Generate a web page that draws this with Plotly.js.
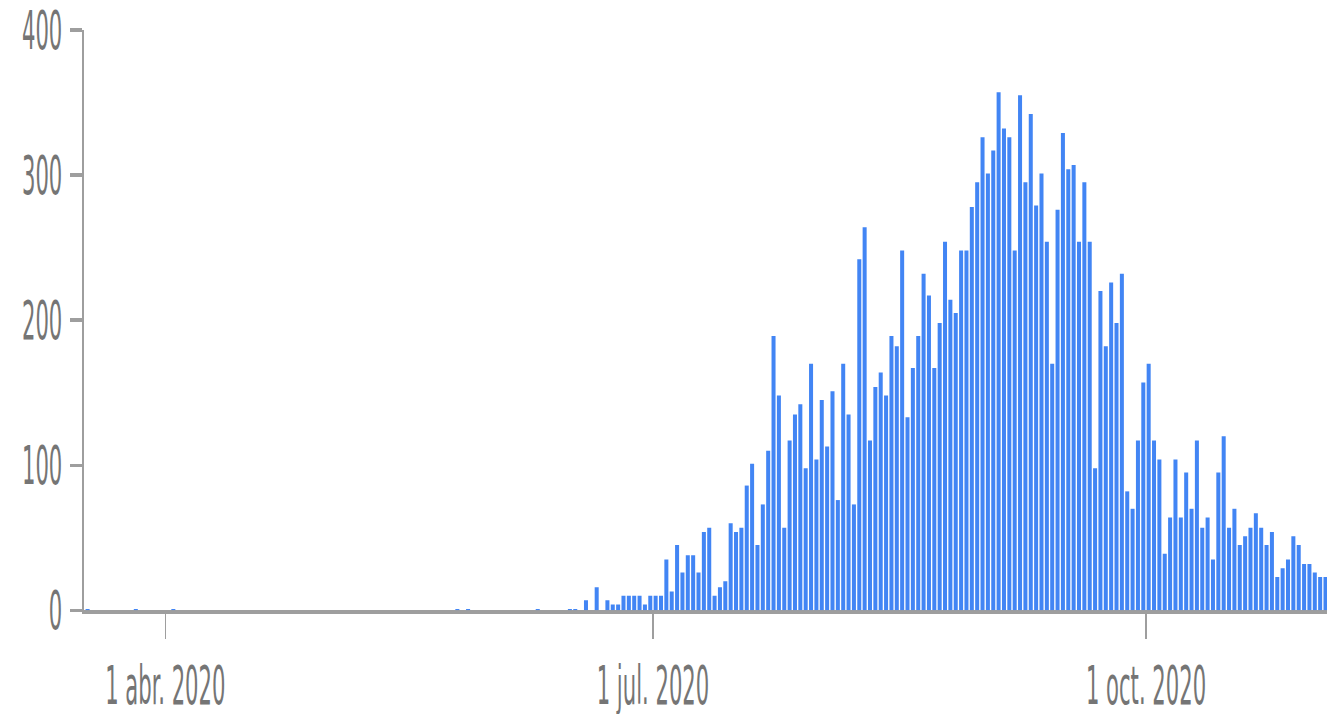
<!DOCTYPE html>
<html>
<head>
<meta charset="utf-8">
<script src="https://cdn.plot.ly/plotly-3.0.1.min.js"></script>
<style>
html, body { margin: 0; padding: 0; overflow: hidden; background: #ffffff; width: 1340px; height: 714px; }
#wrap { width: 1340px; height: 714px; overflow: hidden; }
#chart { width: 1340px; height: 310px; transform: scaleY(2.3032); transform-origin: 0 0; }
</style>
</head>
<body>
<div id="wrap"><div id="chart"></div></div>
<script>
// ---- data (daily values) ----
const sporadicDates = ['2020-03-17', '2020-03-26', '2020-04-02', '2020-05-25', '2020-05-27', '2020-06-09'];
const sporadicCases = [1, 1, 1, 1, 1, 1];

const seriesStart = '2020-06-15';
const casesJun = [1, 1, 0, 7, 0, 16, 0, 7, 4, 4, 10, 10, 10, 10, 4, 10];               // 15-30 Jun
const casesJul = [10, 10, 35, 13, 45, 26, 38, 38, 26, 54, 57, 10, 16, 20, 60, 54, 57, 86, 101, 45,
                  73, 110, 189, 148, 57, 117, 135, 142, 98, 170, 104];
const casesAug = [145, 113, 151, 76, 170, 135, 73, 242, 264, 117, 154, 164, 148, 189, 182, 248, 133, 167, 189, 232,
                  217, 167, 198, 254, 214, 205, 248, 248, 278, 295, 326];
const casesSep = [301, 317, 357, 332, 326, 248, 355, 295, 342, 279, 301, 254, 170, 276, 329, 304, 307, 254, 295, 254,
                  98, 220, 182, 226, 198, 232, 82, 70, 117, 157];
const casesOct = [170, 117, 104, 39, 64, 104, 64, 95, 70, 117, 57, 64, 35, 95, 120, 57, 70, 45, 51, 57,
                  67, 57, 45, 54, 23, 29, 35, 51, 45, 32, 32];
const casesNov = [26, 23, 23];

const tickDates = ['2020-04-01', '2020-07-01', '2020-10-01'];
const tickLabels = ['1 abr. 2020', '1 jul. 2020', '1 oct. 2020'];
const yTickVals = [0, 100, 200, 300, 400];

// ---- build the trace ----
function dayAfter(start, n) {
  const d = new Date(start + 'T00:00:00Z');
  d.setUTCDate(d.getUTCDate() + n);
  return d.toISOString().slice(0, 10);
}
const dailyCases = [].concat(casesJun, casesJul, casesAug, casesSep, casesOct, casesNov);
const dailyDates = dailyCases.map((_, i) => dayAfter(seriesStart, i));

const allDates = sporadicDates.concat(dailyDates).map(d => d + ' 12:00');
const allCases = sporadicCases.concat(dailyCases);

const FONT = 'DejaVu Sans Condensed, DejaVu Sans, sans-serif';

const trace = {
  type: 'bar',
  x: allDates,
  y: allCases,
  marker: { color: '#4285f4', line: { width: 0 } },
  hoverinfo: 'none'
};

const layout = {
  width: 1340,
  height: 310,
  margin: { l: 84, r: 13, t: 13, b: 45.4, pad: 0 },
  paper_bgcolor: '#ffffff',
  plot_bgcolor: '#ffffff',
  bargap: 0.25,
  showlegend: false,
  font: { family: FONT, size: 23.5, color: '#757575' },
  xaxis: {
    type: 'date',
    range: ['2020-03-16 19:55', '2020-11-03 18:40'],
    tickmode: 'array',
    tickvals: tickDates,
    ticktext: tickLabels,
    ticks: 'outside',
    ticklen: 11,
    tickwidth: 1.5,
    tickcolor: '#9e9e9e',
    showline: true,
    linecolor: '#9e9e9e',
    linewidth: 1.5,
    showgrid: false,
    zeroline: false,
    layer: 'below traces',
    ticklabeloverflow: 'allow',
    tickfont: { family: FONT, size: 23.5, color: '#757575' }
  },
  yaxis: {
    range: [0, 400],
    tickmode: 'array',
    tickvals: yTickVals,
    ticktext: yTickVals.map(String),
    ticks: 'outside',
    ticklen: 12,
    tickwidth: 1.5,
    tickcolor: '#9e9e9e',
    showline: true,
    linecolor: '#9e9e9e',
    linewidth: 2,
    showgrid: false,
    zeroline: false,
    layer: 'below traces',
    ticklabelstandoff: 3,
    ticklabeloverflow: 'allow',
    tickfont: { family: FONT, size: 23.5, color: '#757575' }
  }
};

Plotly.newPlot('chart', [trace], layout, { staticPlot: true, displayModeBar: false });
</script>
</body>
</html>
